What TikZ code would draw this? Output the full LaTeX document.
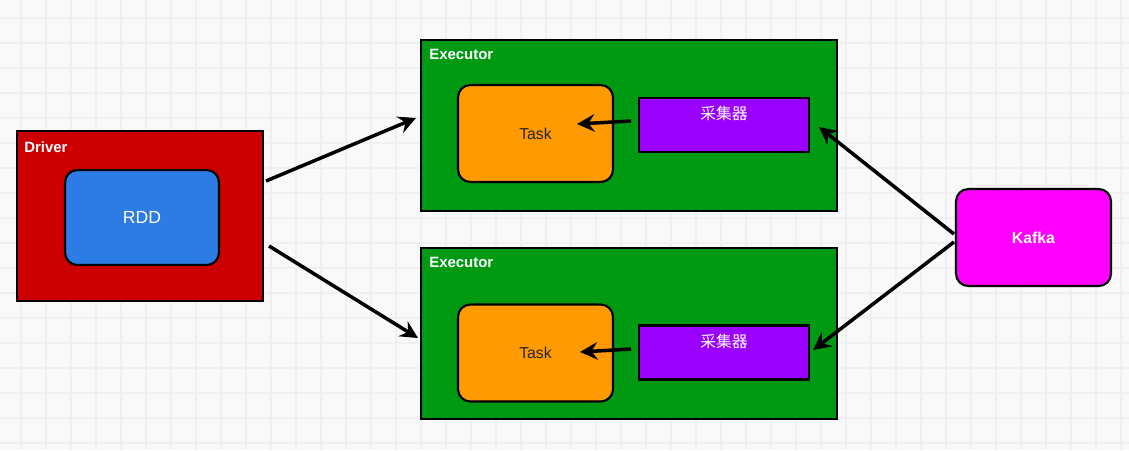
\documentclass[tikz,border=0pt]{standalone}
\usepackage{fontspec}
\setmainfont{Liberation Sans}
\newfontfamily\cjkfont{Noto Sans CJK SC}
\usepackage{tikz}
\usetikzlibrary{arrows.meta, positioning, calc}
\definecolor{bgpaper}{RGB}{249,249,249}
\definecolor{bggrid}{RGB}{240,240,240}
\definecolor{drvred}{RGB}{204,0,0}
\definecolor{rddblue}{RGB}{45,123,228}
\definecolor{exgreen}{RGB}{0,154,18}
\definecolor{taskorange}{RGB}{255,154,0}
\definecolor{colpurple}{RGB}{153,0,255}
\definecolor{kfmagenta}{RGB}{255,0,255}
\tikzset{
  outerbox/.style={rectangle, draw=black, line width=1.2pt,
    inner sep=0pt},
  innerbox/.style={rectangle, draw=black, line width=1.2pt,
    rounded corners=7pt, minimum width=3.1cm, minimum height=1.94cm,
    font=\fontsize{9}{10}\selectfont},
  boxtitle/.style={text=white, font=\fontsize{8.5}{10}\selectfont\bfseries,
    anchor=north west, inner sep=0pt},
  collbox/.style={rectangle, draw=black, line width=1.2pt, fill=colpurple,
    minimum width=3.4cm, minimum height=1.08cm, inner sep=0pt},
  flow/.style={-{Stealth[length=10pt, width=10pt, inset=3.5pt]}, line width=2pt,
    color=black}
}
\begin{document}
\begin{tikzpicture}[x=0.02cm, y=-0.02cm]
  % paper and grid
  \fill[bgpaper] (0,0) rectangle (1129,450);
  \useasboundingbox (0,0) rectangle (1129,450);
  \foreach \gx in {21,46,...,1121}
    \draw[bggrid, line width=0.8pt] (\gx,0) -- (\gx,450);
  \foreach \gy in {18,43,...,443}
    \draw[bggrid, line width=0.8pt] (0,\gy) -- (1129,\gy);

  % Driver
  \node[outerbox, fill=drvred, minimum width=4.92cm, minimum height=3.4cm,
    label={[boxtitle, xshift=0.16cm, yshift=-0.22cm]north west:Driver}]
    (driver) at (140,216) {};
  \node[innerbox, fill=rddblue, minimum width=3.08cm, minimum height=1.9cm,
    text=white, font=\fontsize{10}{12}\selectfont] (rdd) at (142,217.5) {RDD};

  % Executor (top)
  \node[outerbox, fill=exgreen, minimum width=8.32cm, minimum height=3.42cm,
    label={[boxtitle, xshift=0.18cm, yshift=-0.2cm]north west:Executor}]
    (execA) at (629,125.5) {};
  \node[innerbox, fill=taskorange, text=black!85] (taskA) at (535.5,133.5) {Task};
  \node[collbox,
    label={[text=white, anchor=north, yshift=-0.18cm, inner sep=0pt,
      font=\cjkfont\fontsize{9}{10}\selectfont]north:采集器}]
    (collA) at (724,125) {};

  % Executor (bottom)
  \node[outerbox, fill=exgreen, minimum width=8.32cm, minimum height=3.42cm,
    label={[boxtitle, xshift=0.18cm, yshift=-0.2cm]north west:Executor}]
    (execB) at (629,333.5) {};
  \node[innerbox, fill=taskorange, text=black!85] (taskB) at (535.5,353) {Task};
  \node[collbox,
    label={[text=white, anchor=north, yshift=-0.18cm, inner sep=0pt,
      font=\cjkfont\fontsize{9}{10}\selectfont]north:采集器}]
    (collB) at (724,352.5) {};

  % Kafka
  \node[innerbox, fill=kfmagenta, text=white,
    font=\fontsize{9}{10}\selectfont\bfseries] (kafka) at (1033.5,237.5) {Kafka};

  % connectors
  \draw[flow] ([shift={(2,-35)}]driver.east) -- ([shift={(-4,-7.5)}]execA.west);
  \draw[flow] ([shift={(5,30)}]driver.east) -- ([shift={(-2,4.5)}]execB.west);
  \draw[flow] ([shift={(-1,-3.5)}]kafka.west) -- ([shift={(9,2)}]collA.east);
  \draw[flow] ([shift={(-1,4.5)}]kafka.west) -- ([shift={(3,-2.5)}]collB.east);
  \draw[flow] ([shift={(-7,-4)}]collA.west) -- ([shift={(41.5,-9.5)}]taskA.center);
  \draw[flow] ([shift={(-7,-3.5)}]collB.west) -- ([shift={(44.5,-1)}]taskB.center);
\end{tikzpicture}
\end{document}
